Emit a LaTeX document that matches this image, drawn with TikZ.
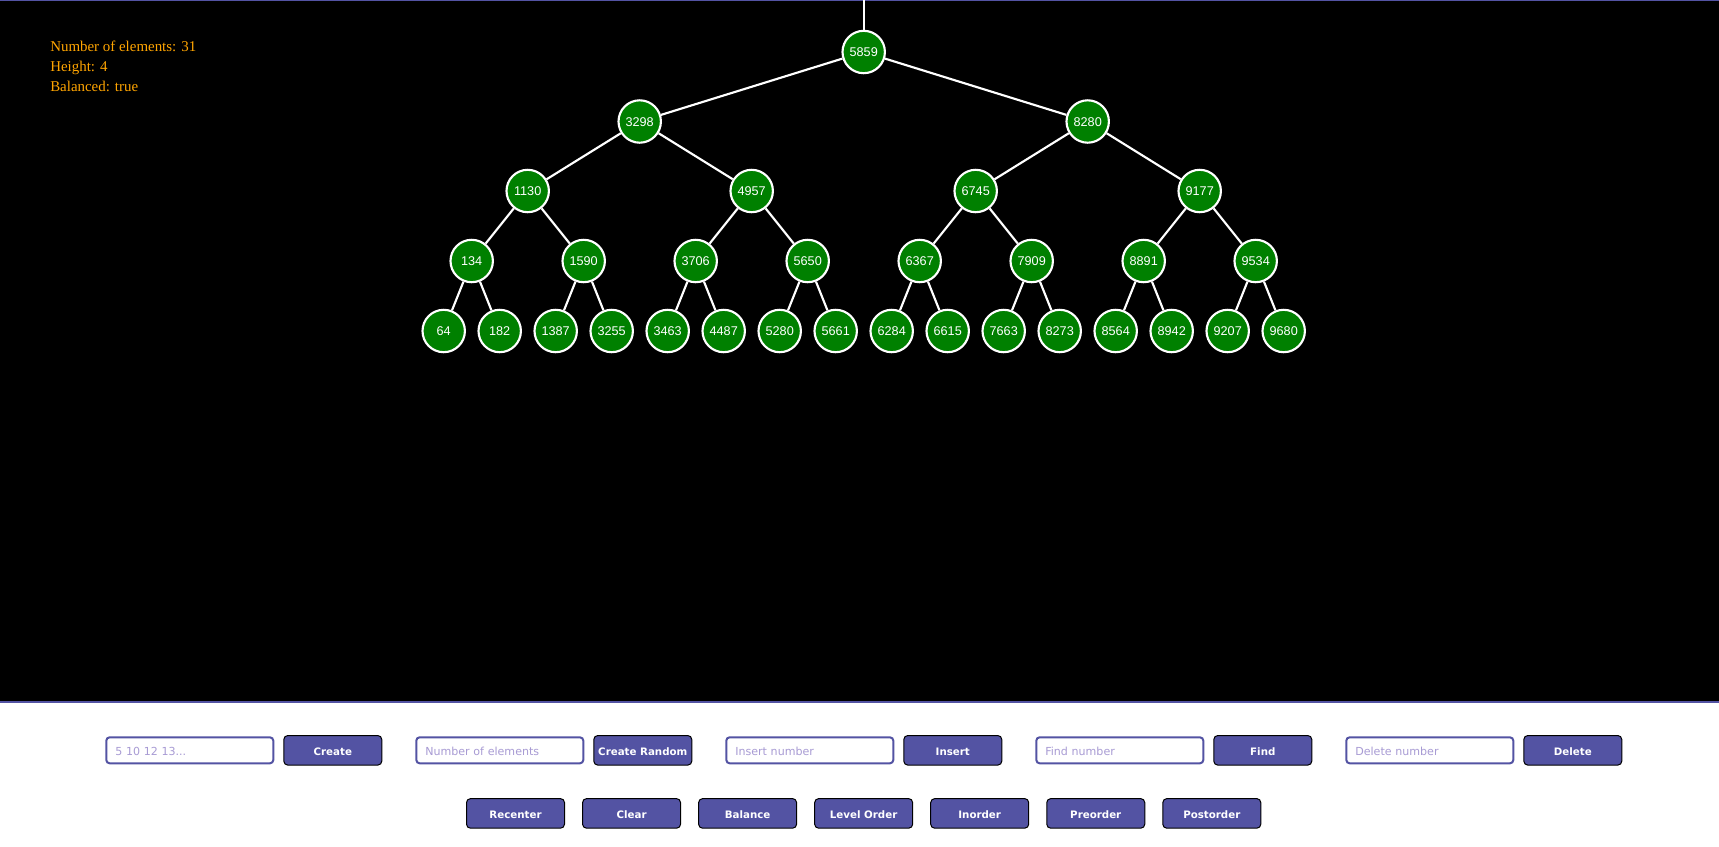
\documentclass[tikz,border=0pt]{standalone}
\usepackage{fontspec}
\setmainfont{Liberation Serif}
\setsansfont{Liberation Sans}
\newfontfamily\uifont{DejaVu Sans}
\definecolor{uipurple}{RGB}{83,83,163}
\definecolor{nodegreen}{RGB}{0,128,0}
\definecolor{phcolor}{RGB}{168,155,212}
\definecolor{statorange}{RGB}{255,165,0}
\tikzset{
  tnode/.style={circle, fill=nodegreen, draw=white, line width=1.6pt, minimum size=31.8pt, inner sep=0pt,
    text=white, text height=6.8pt, text depth=0pt, font=\sffamily\fontsize{9.5pt}{11pt}\selectfont},
  tedge/.style={draw=white, line width=1.6pt},
  stat/.style={anchor=base west, inner sep=0pt, text=statorange, font=\rmfamily\fontsize{11.2pt}{13pt}\selectfont},
  uibtn/.style={draw=black, line width=0.75pt, fill=uipurple, rounded corners=3pt, minimum width=73.5pt,
    minimum height=22.2pt, inner sep=0pt, text=white, text height=7.4pt, text depth=0pt,
    font=\uifont\bfseries\fontsize{7.7pt}{9pt}\selectfont},
  uiinput/.style={draw=uipurple, line width=1.5pt, fill=white, rounded corners=2.5pt, minimum height=19.5pt,
    inner ysep=0pt, inner xsep=6.75pt, text width=111.75pt, align=left, text=phcolor,
    text height=8.5pt, text depth=0pt, font=\uifont\fontsize{8.3pt}{10pt}\selectfont}
}
\begin{document}
\begin{tikzpicture}[x=0.75pt,y=-0.75pt]
\useasboundingbox (0,0) rectangle (1719,846);
% backgrounds
\fill[black] (0,0) rectangle (1719,702);
\fill[white] (0,702) rectangle (1719,846);
\fill[uipurple] (0,0) rectangle (1719,1.3);
\fill[uipurple] (0,701) rectangle (1719,703.2);
% stats
\node[stat] (s1) at (50,51) {Number of elements: 31};
\node[stat] (s2) at (50,71) {Height: 4};
\node[stat] (s3) at (50,91) {Balanced: true};
% tree nodes
\node[tnode] (n0-0) at (863.7,52) {5859};
\foreach \i/\v in {0/3298,1/8280}
  \node[tnode] (n1-\i) at ({639.7+448*\i},121.5) {\v};
\foreach \i/\v in {0/1130,1/4957,2/6745,3/9177}
  \node[tnode] (n2-\i) at ({527.7+224*\i},191) {\v};
\foreach \i/\v in {0/134,1/1590,2/3706,3/5650,4/6367,5/7909,6/8891,7/9534}
  \node[tnode] (n3-\i) at ({471.7+112*\i},261) {\v};
\foreach \i/\v in {0/64,1/182,2/1387,3/3255,4/3463,5/4487,6/5280,7/5661,8/6284,9/6615,10/7663,11/8273,12/8564,13/8942,14/9207,15/9680}
  \node[tnode] (n4-\i) at ({443.7+56*\i},331) {\v};
% edges
\coordinate (top) at (863.7,0);
\draw[tedge] (top) -- (n0-0);
\foreach \l/\m/\c in {0/1/0,1/2/1,2/3/3,3/4/7}{
  \foreach \i in {0,...,\c}{
    \pgfmathtruncatemacro{\a}{2*\i}
    \pgfmathtruncatemacro{\b}{2*\i+1}
    \draw[tedge] (n\l-\i) -- (n\m-\a);
    \draw[tedge] (n\l-\i) -- (n\m-\b);
  }
}
% first row controls
\foreach \k/\ph/\bt in {0/{5 10 12 13...}/Create,1/{Number of elements}/{Create Random},2/{Insert number}/Insert,3/{Find number}/Find,4/{Delete number}/Delete}{
  \node[uiinput] (in\k) at ({189.8+310*\k},750.3) {\ph};
  \node[uibtn] (bt\k) at ({332.8+310*\k},750.3) {\bt};
}
% second row buttons
\foreach \j/\bt in {0/Recenter,1/Clear,2/Balance,3/{Level Order},4/Inorder,5/Preorder,6/Postorder}
  \node[uibtn] (rb\j) at ({515.5+116.05*\j},813.4) {\bt};
\end{tikzpicture}
\end{document}
